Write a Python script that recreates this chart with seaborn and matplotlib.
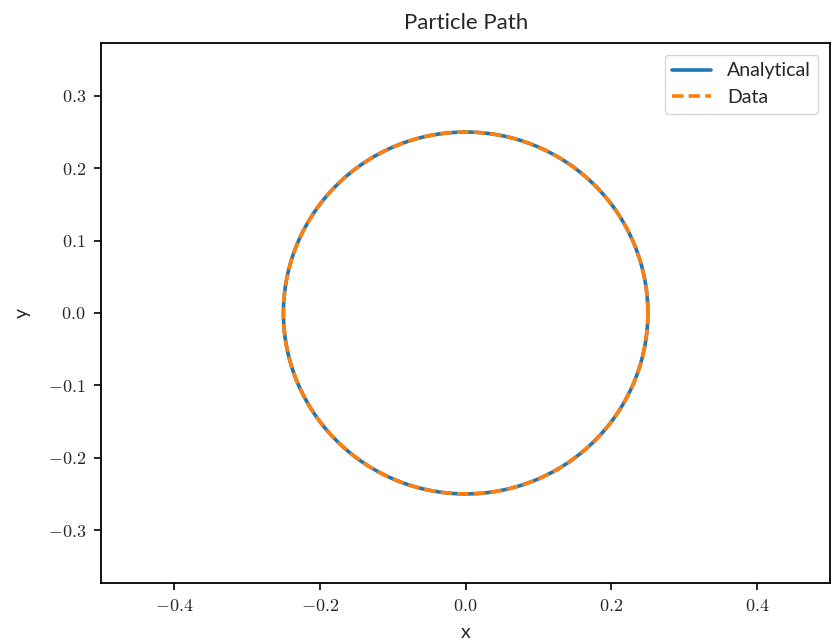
import numpy as np
import pandas as pd
import matplotlib
matplotlib.use("Agg")
import matplotlib.pyplot as plt
import seaborn as sns

# Parameters
radius = 0.25
center_x = 0.0
center_y = 0.0
n_points = 200
series_names = ["Analytical", "Data"]
x_ticks = [-0.4, -0.2, 0.0, 0.2, 0.4]
y_ticks = [-0.3, -0.2, -0.1, 0.0, 0.1, 0.2, 0.3]

theta = np.linspace(0, 2 * np.pi, n_points)
xs = center_x + radius * np.cos(theta)
ys = center_y + radius * np.sin(theta)

frames = []
for name in series_names:
    frames.append(pd.DataFrame({"x": xs, "y": ys, "series": name}))
df = pd.concat(frames, ignore_index=True)

sns.set_style("ticks")
plt.rcParams["font.family"] = ["Lato", "DejaVu Sans"]
plt.rcParams["mathtext.fontset"] = "cm"

fig = plt.figure(figsize=(8.36, 6.42), dpi=100)
ax = fig.add_axes([0.121, 0.092, 0.872, 0.841])

palette = {"Analytical": "#1f77b4", "Data": "#ff7f0e"}
sns.lineplot(data=df, x="x", y="y", hue="series", style="series",
             palette=palette, dashes={"Analytical": "", "Data": (3.2, 1.4)},
             sort=False, estimator=None, linewidth=2.6, ax=ax)

ax.set_xlim(-0.5, 0.5)
ax.set_ylim(-0.373, 0.373)
ax.set_xticks(x_ticks)
ax.set_yticks(y_ticks)
ax.xaxis.set_major_formatter(matplotlib.ticker.FuncFormatter(lambda v, p: f"${v:.1f}$"))
ax.yaxis.set_major_formatter(matplotlib.ticker.FuncFormatter(lambda v, p: f"${v:.1f}$"))
ax.tick_params(labelsize=13, length=5, color="black", width=1.2, pad=6)
for s in ax.spines.values():
    s.set_color("black")
    s.set_linewidth(1.3)

ax.set_title("Particle Path", fontsize=16, pad=10)
ax.set_xlabel("x", fontsize=14, labelpad=7)
ax.set_ylabel("y", fontsize=14, labelpad=12)
leg = ax.legend(title=None, loc="upper right", fontsize=14, frameon=True,
                handlelength=2.0, borderaxespad=0.6)
leg.get_frame().set_edgecolor("#cccccc")
for h in leg.get_lines():
    h.set_linewidth(2.6)

fig.savefig("out.png", dpi=100)
